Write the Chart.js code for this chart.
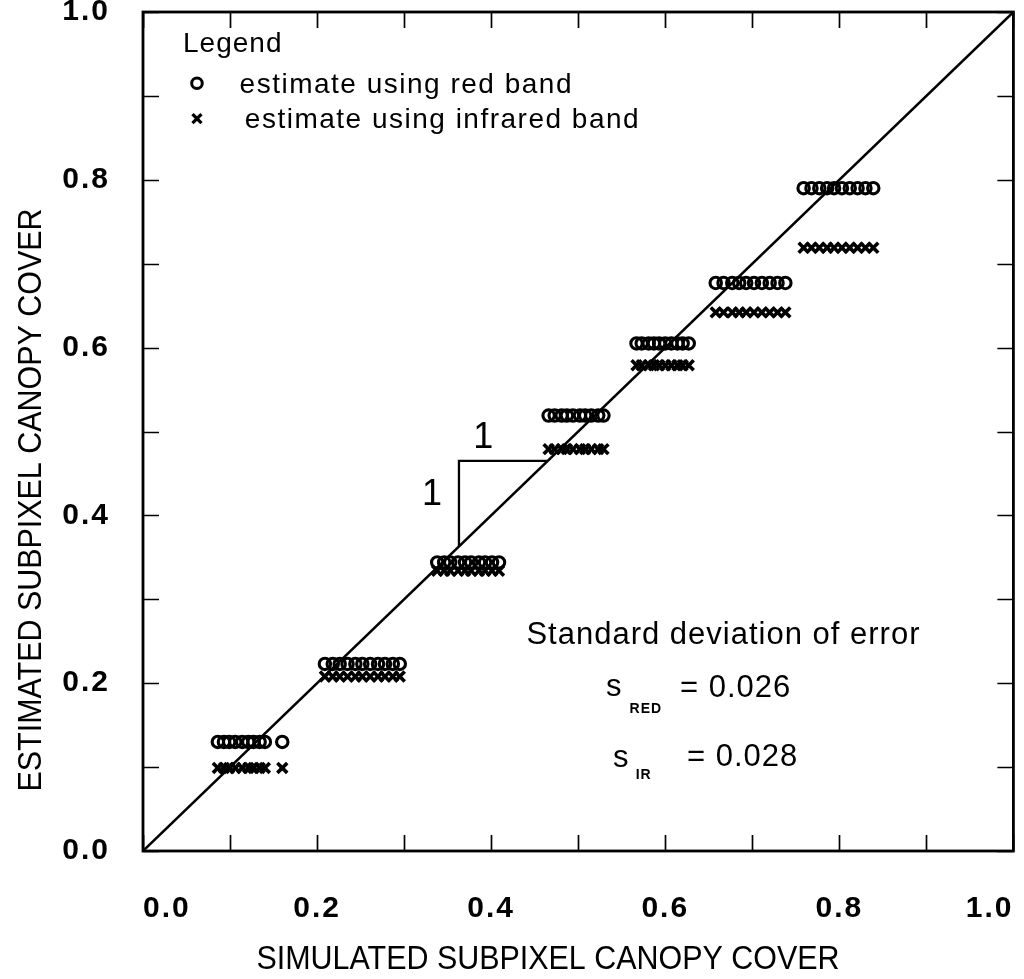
<!DOCTYPE html>
<html>
<head>
<meta charset="utf-8">
<title>Subpixel canopy cover estimates</title>
<script src="https://cdn.jsdelivr.net/npm/chart.js@4.4.1/dist/chart.umd.min.js"></script>
<style>
  html, body { margin: 0; padding: 0; background: #fff; }
  #wrap { width: 1024px; height: 979px; }
</style>
</head>
<body>
<div id="wrap"><canvas id="plot_canvas" width="1024" height="979"></canvas></div>
<script>
// simulated subpixel cover of the test pixels, one list per estimate level
const coverGroups = [
  [0.086, 0.093, 0.099, 0.106, 0.114, 0.121, 0.127, 0.134, 0.140, 0.160],
  [0.209, 0.218, 0.226, 0.235, 0.244, 0.252, 0.261, 0.270, 0.278, 0.287, 0.295],
  [0.338, 0.346, 0.353, 0.362, 0.370, 0.377, 0.386, 0.393, 0.401, 0.409],
  [0.466, 0.473, 0.481, 0.487, 0.494, 0.502, 0.508, 0.515, 0.523, 0.529],
  [0.567, 0.573, 0.581, 0.587, 0.593, 0.600, 0.607, 0.614, 0.620, 0.627],
  [0.658, 0.667, 0.677, 0.685, 0.693, 0.702, 0.711, 0.720, 0.729, 0.738],
  [0.759, 0.768, 0.777, 0.786, 0.794, 0.803, 0.812, 0.821, 0.830, 0.839]
];
// estimated cover for each level
const redEstimate = [0.130, 0.223, 0.344, 0.519, 0.605, 0.677, 0.790];
const irEstimate  = [0.099, 0.208, 0.334, 0.479, 0.579, 0.642, 0.719];

const tickLabels = ['0.0', '0.2', '0.4', '0.6', '0.8', '1.0'];
const oneToOne = [0, 1];
const slopeStep = [0.363, 0.465];   // corner points of the 1:1 triangle
const sdRed = '0.026';
const sdIR = '0.028';

const xTitle = 'SIMULATED SUBPIXEL CANOPY COVER';
const yTitle = 'ESTIMATED SUBPIXEL CANOPY COVER';

const toPoints = (levels) => coverGroups.flatMap((g, i) => g.map(c => ({x: c, y: levels[i]})));

const TICK_LEN = 16;
const SANS = '"Liberation Sans", Arial, Helvetica, sans-serif';

function tickText(v) {
  const k = Math.round(v * 10);
  return k % 2 === 0 ? tickLabels[k / 2] : '';
}

// wider tracking for the tick numbers
const spacing = {
  id: 'spacing',
  beforeDraw(chart) { chart.ctx.letterSpacing = '2px'; },
  afterDatasetsDraw(chart) { chart.ctx.letterSpacing = '0px'; }
};

// frame on all four sides with inward tick marks every 0.1
const frameTicks = {
  id: 'frameTicks',
  afterDatasetsDraw(chart) {
    const {ctx, chartArea: a, scales: {x, y}} = chart;
    ctx.save();
    ctx.strokeStyle = '#000';
    ctx.lineWidth = 1.7;
    ctx.beginPath();
    x.ticks.forEach(t => {
      const px = Math.round(x.getPixelForValue(t.value)) + 0.5;
      ctx.moveTo(px, a.bottom); ctx.lineTo(px, a.bottom - TICK_LEN);
      ctx.moveTo(px, a.top); ctx.lineTo(px, a.top + TICK_LEN);
    });
    y.ticks.forEach(t => {
      const py = Math.round(y.getPixelForValue(t.value)) + 0.5;
      ctx.moveTo(a.left, py); ctx.lineTo(a.left + TICK_LEN, py);
      ctx.moveTo(a.right, py); ctx.lineTo(a.right - TICK_LEN, py);
    });
    ctx.stroke();
    ctx.lineWidth = 2.8;
    ctx.strokeRect(a.left, a.top, a.right - a.left, a.bottom - a.top);
    ctx.restore();
  }
};

function circleMark(ctx, x, y) {
  ctx.lineWidth = 3;
  ctx.beginPath();
  ctx.arc(x, y, 5.3, 0, Math.PI * 2);
  ctx.stroke();
}
function crossMark(ctx, x, y) {
  ctx.lineWidth = 3.3;
  ctx.beginPath();
  ctx.moveTo(x - 4.5, y - 4.5); ctx.lineTo(x + 4.5, y + 4.5);
  ctx.moveTo(x + 4.5, y - 4.5); ctx.lineTo(x - 4.5, y + 4.5);
  ctx.stroke();
}

// legend box, slope labels, error summary and axis titles
const notes = {
  id: 'notes',
  afterDraw(chart) {
    const {ctx, scales: {x, y}} = chart;
    const X = v => x.getPixelForValue(v);
    const Y = v => y.getPixelForValue(v);
    ctx.save();
    ctx.fillStyle = '#000';
    ctx.strokeStyle = '#000';
    ctx.textBaseline = 'middle';
    ctx.textAlign = 'left';

    ctx.font = '28px ' + SANS;
    ctx.letterSpacing = '1px';
    ctx.fillText('Legend', X(0.046), Y(0.962));
    ctx.letterSpacing = '1.5px';
    circleMark(ctx, X(0.062), Y(0.915));
    ctx.fillText('estimate using red band', X(0.111), Y(0.913));
    crossMark(ctx, X(0.062), Y(0.873));
    ctx.fillText('estimate using infrared band', X(0.117), Y(0.871));

    ctx.letterSpacing = '0px';
    ctx.font = '36px ' + SANS;
    ctx.textAlign = 'center';
    ctx.fillText('1', X(0.391), Y(0.492));
    ctx.fillText('1', X(0.332), Y(0.424));

    ctx.textAlign = 'left';
    ctx.font = '31px ' + SANS;
    ctx.letterSpacing = '1px';
    ctx.fillText('Standard deviation of error', X(0.4405), Y(0.257));
    ctx.fillText('s', X(0.532), Y(0.195));
    ctx.fillText('= ' + sdRed, X(0.617), Y(0.194));
    ctx.fillText('s', X(0.540), Y(0.110));
    ctx.fillText('= ' + sdIR, X(0.625), Y(0.112));
    ctx.font = 'bold 14px ' + SANS;
    ctx.fillText('RED', X(0.559), Y(0.169));
    ctx.fillText('IR', X(0.566), Y(0.090));
    ctx.letterSpacing = '0px';

    // condensed axis titles
    ctx.font = '34px ' + SANS;
    ctx.textAlign = 'center';
    const sx = 583 / ctx.measureText(xTitle).width;
    ctx.save();
    ctx.translate(548, 960);
    ctx.scale(sx, 1);
    ctx.fillText(xTitle, 0, 0);
    ctx.restore();
    ctx.save();
    ctx.translate(32, 500);
    ctx.rotate(-Math.PI / 2);
    ctx.scale(sx, 1);
    ctx.fillText(yTitle, 0, 0);
    ctx.restore();

    ctx.restore();
  }
};

const tickFont = {family: 'Liberation Sans', size: 30, weight: 'bold'};

const config = {
  type: 'scatter',
  data: {
    datasets: [
      {
        label: 'estimate using red band',
        data: toPoints(redEstimate),
        pointStyle: 'circle',
        pointRadius: 5.7,
        pointBorderWidth: 3.1,
        borderColor: '#000',
        backgroundColor: 'rgba(0,0,0,0)'
      },
      {
        label: 'estimate using infrared band',
        data: toPoints(irEstimate),
        pointStyle: 'crossRot',
        pointRadius: 7,
        pointBorderWidth: 3.6,
        borderColor: '#000',
        backgroundColor: '#000'
      },
      {
        label: '1:1',
        data: oneToOne.map(v => ({x: v, y: v})),
        showLine: true,
        pointRadius: 0,
        borderWidth: 2.5,
        borderColor: '#000'
      },
      {
        label: 'slope',
        data: [
          {x: slopeStep[0], y: slopeStep[0]},
          {x: slopeStep[0], y: slopeStep[1]},
          {x: slopeStep[1], y: slopeStep[1]}
        ],
        showLine: true,
        pointRadius: 0,
        borderWidth: 2.3,
        borderColor: '#000'
      }
    ]
  },
  options: {
    responsive: false,
    animation: false,
    layout: {padding: {top: 12, right: 7, left: 0, bottom: 0}},
    plugins: {
      legend: {display: false},
      tooltip: {enabled: false}
    },
    scales: {
      x: {
        type: 'linear',
        min: 0,
        max: 1,
        grid: {display: false},
        border: {display: false},
        ticks: {
          stepSize: 0.1,
          autoSkip: false,
          maxRotation: 0,
          align: 'inner',
          padding: 32,
          color: '#000',
          font: tickFont,
          callback: tickText
        },
        afterFit(s) {
          s.height = 128;
          s.paddingLeft = 0;
          s.paddingRight = 0;
        }
      },
      y: {
        type: 'linear',
        min: 0,
        max: 1,
        grid: {display: false},
        border: {display: false},
        ticks: {
          stepSize: 0.1,
          autoSkip: false,
          padding: 25,
          color: '#000',
          font: tickFont,
          callback: tickText
        },
        afterFit(s) {
          s.width = 143;
          s.paddingTop = 0;
          s.paddingBottom = 0;
        }
      }
    }
  },
  plugins: [spacing, frameTicks, notes]
};

new Chart(document.getElementById('plot_canvas'), config);
</script>
</body>
</html>
